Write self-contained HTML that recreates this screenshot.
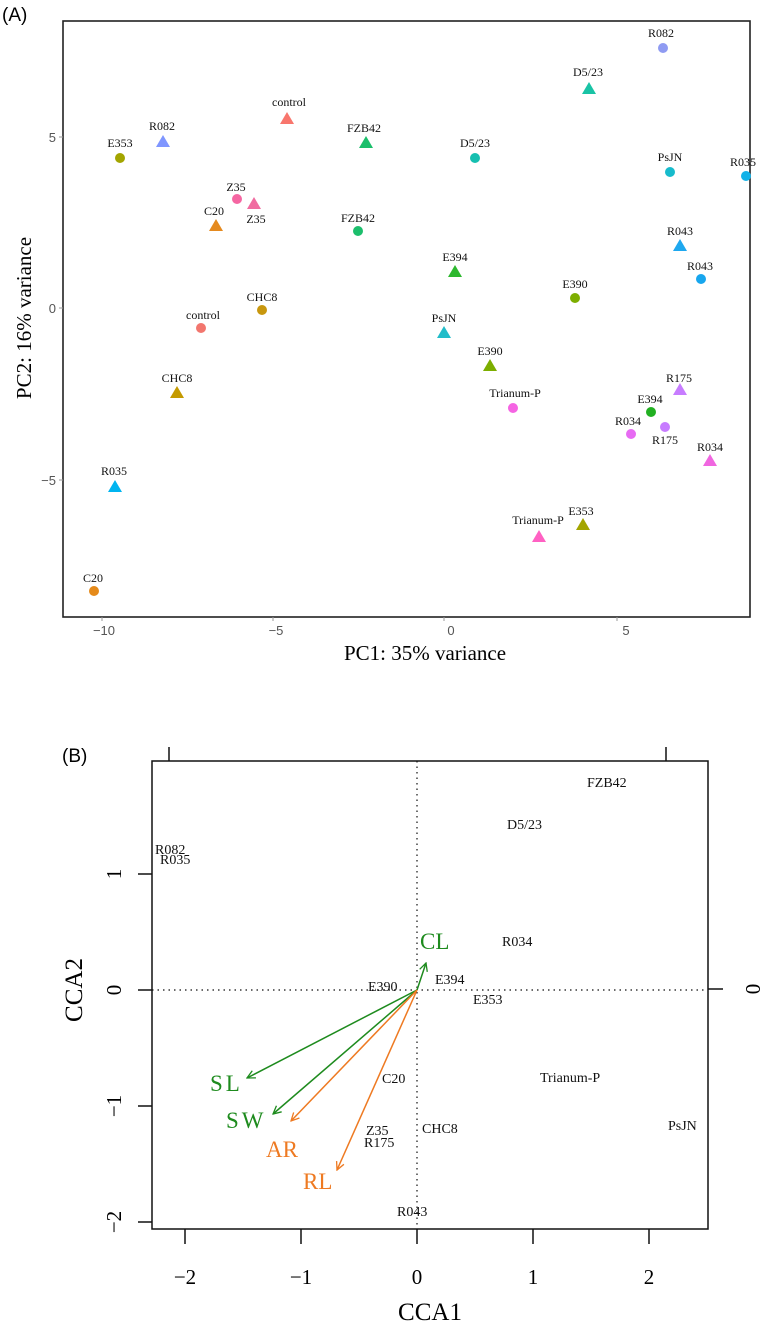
<!DOCTYPE html>
<html><head><meta charset="utf-8"><style>
body{margin:0;background:#fff}
svg{display:block}
.l{font-family:"Liberation Serif",serif;font-size:12px;fill:#111;text-anchor:middle}
.b{font-family:"Liberation Serif",serif;font-size:14px;fill:#111}
.t{font-family:"Liberation Sans",sans-serif;font-size:13px;fill:#555}
</style></head><body>
<svg width="764" height="1323" viewBox="0 0 764 1323" xmlns="http://www.w3.org/2000/svg">
<text x="2" y="21" font-family="Liberation Sans,sans-serif" font-size="19" fill="#000">(A)</text>
<rect x="63" y="21" width="687" height="596" fill="none" stroke="#222" stroke-width="1.6"/>
<g stroke="#999" stroke-width="1">
<line x1="59" y1="137" x2="63" y2="137"/><line x1="59" y1="308" x2="63" y2="308"/><line x1="59" y1="480" x2="63" y2="480"/>
<line x1="102" y1="617" x2="102" y2="621"/><line x1="273" y1="617" x2="273" y2="621"/><line x1="444" y1="617" x2="444" y2="621"/><line x1="617" y1="617" x2="617" y2="621"/>
</g>
<text class="t" x="56" y="142" text-anchor="end">5</text>
<text class="t" x="56" y="313" text-anchor="end">0</text>
<text class="t" x="56" y="485" text-anchor="end">−5</text>
<text class="t" x="104" y="635" text-anchor="middle">−10</text>
<text class="t" x="276" y="635" text-anchor="middle">−5</text>
<text class="t" x="451" y="635" text-anchor="middle">0</text>
<text class="t" x="626" y="635" text-anchor="middle">5</text>
<text x="425" y="660" font-family="Liberation Serif,serif" font-size="21" text-anchor="middle">PC1: 35% variance</text>
<text transform="translate(31,318) rotate(-90)" font-family="Liberation Serif,serif" font-size="21" text-anchor="middle">PC2: 16% variance</text>
<g>
<circle cx="663" cy="48" r="5" fill="#8F9BF2"/><text class="l" x="661" y="37">R082</text>
<polygon points="589,82 596,94 582,94" fill="#19C3A5"/><text class="l" x="588" y="76">D5/23</text>
<polygon points="287,112 294,124 280,124" fill="#F8766D"/><text class="l" x="289" y="106">control</text>
<polygon points="163,135 170,147 156,147" fill="#7F96FF"/><text class="l" x="162" y="130">R082</text>
<circle cx="120" cy="158" r="5" fill="#A3A500"/><text class="l" x="120" y="147">E353</text>
<polygon points="366,136 373,148 359,148" fill="#1BBF6B"/><text class="l" x="364" y="132">FZB42</text>
<circle cx="475" cy="158" r="5" fill="#16BFB0"/><text class="l" x="475" y="147">D5/23</text>
<circle cx="670" cy="172" r="5" fill="#17BBCC"/><text class="l" x="670" y="161">PsJN</text>
<circle cx="746" cy="176" r="5" fill="#12B2E8"/><text class="l" x="743" y="166">R035</text>
<circle cx="237" cy="199" r="5" fill="#F566A2"/><text class="l" x="236" y="191">Z35</text>
<polygon points="254,197 261,209 247,209" fill="#F06CA0"/><text class="l" x="256" y="223">Z35</text>
<circle cx="358" cy="231" r="5" fill="#1CBE6C"/><text class="l" x="358" y="222">FZB42</text>
<polygon points="216,219 223,231 209,231" fill="#E58A1F"/><text class="l" x="214" y="215">C20</text>
<polygon points="680,239 687,251 673,251" fill="#1EA8EF"/><text class="l" x="680" y="235">R043</text>
<circle cx="701" cy="279" r="5" fill="#17A6EE"/><text class="l" x="700" y="270">R043</text>
<polygon points="455,265 462,277 448,277" fill="#2DB82E"/><text class="l" x="455" y="261">E394</text>
<circle cx="575" cy="298" r="5" fill="#7DAE00"/><text class="l" x="575" y="288">E390</text>
<circle cx="262" cy="310" r="5" fill="#C8970E"/><text class="l" x="262" y="301">CHC8</text>
<circle cx="201" cy="328" r="5" fill="#F2766E"/><text class="l" x="203" y="319">control</text>
<polygon points="444,326 451,338 437,338" fill="#22BCC9"/><text class="l" x="444" y="322">PsJN</text>
<polygon points="490,359 497,371 483,371" fill="#7CAE00"/><text class="l" x="490" y="355">E390</text>
<polygon points="680,383 687,395 673,395" fill="#C77CFF"/><text class="l" x="679" y="382">R175</text>
<circle cx="651" cy="412" r="5" fill="#22B022"/><text class="l" x="650" y="403">E394</text>
<polygon points="177,386 184,398 170,398" fill="#C49A00"/><text class="l" x="177" y="382">CHC8</text>
<circle cx="513" cy="408" r="5" fill="#F564E3"/><text class="l" x="515" y="397">Trianum-P</text>
<circle cx="631" cy="434" r="5" fill="#E76BF3"/><text class="l" x="628" y="425">R034</text>
<circle cx="665" cy="427" r="5" fill="#C77CFF"/><text class="l" x="665" y="444">R175</text>
<polygon points="710,454 717,466 703,466" fill="#F066E0"/><text class="l" x="710" y="451">R034</text>
<polygon points="115,480 122,492 108,492" fill="#00B4F0"/><text class="l" x="114" y="475">R035</text>
<polygon points="583,518 590,530 576,530" fill="#A3A500"/><text class="l" x="581" y="515">E353</text>
<polygon points="539,530 546,542 532,542" fill="#FF61C3"/><text class="l" x="538" y="524">Trianum-P</text>
<circle cx="94" cy="591" r="5" fill="#E58A1A"/><text class="l" x="93" y="582">C20</text>
</g>

<text x="62" y="762" font-family="Liberation Sans,sans-serif" font-size="19" fill="#000">(B)</text>
<rect x="152" y="761" width="556" height="468" fill="none" stroke="#111" stroke-width="1.5"/>
<g stroke="#111" stroke-width="1.5">
<line x1="169" y1="747" x2="169" y2="761"/><line x1="666" y1="747" x2="666" y2="761"/>
<line x1="708" y1="989" x2="723" y2="989"/>
<line x1="138" y1="874" x2="152" y2="874"/><line x1="138" y1="990" x2="152" y2="990"/><line x1="138" y1="1106" x2="152" y2="1106"/><line x1="138" y1="1222" x2="152" y2="1222"/>
<line x1="185" y1="1229" x2="185" y2="1244"/><line x1="301" y1="1229" x2="301" y2="1244"/><line x1="417" y1="1229" x2="417" y2="1244"/><line x1="533" y1="1229" x2="533" y2="1244"/><line x1="649" y1="1229" x2="649" y2="1244"/>
</g>
<g stroke="#111" stroke-width="1.2" stroke-dasharray="1.5,4">
<line x1="152" y1="990" x2="708" y2="990"/><line x1="417" y1="761" x2="417" y2="1229"/>
</g>
<g font-family="Liberation Serif,serif" font-size="21" fill="#000" text-anchor="middle">
<text x="185" y="1284">−2</text><text x="301" y="1284">−1</text><text x="417" y="1284">0</text><text x="533" y="1284">1</text><text x="649" y="1284">2</text>
<text transform="translate(121,874) rotate(-90)">1</text>
<text transform="translate(121,990) rotate(-90)">0</text>
<text transform="translate(121,1106) rotate(-90)">−1</text>
<text transform="translate(121,1222) rotate(-90)">−2</text>
<text transform="translate(760,989) rotate(-90)">0</text>
</g>
<text x="430" y="1320" font-family="Liberation Serif,serif" font-size="25" text-anchor="middle">CCA1</text>
<text transform="translate(82,990) rotate(-90)" font-family="Liberation Serif,serif" font-size="25" text-anchor="middle">CCA2</text>
<g class="b">
<text class="b" x="587" y="787">FZB42</text>
<text class="b" x="507" y="829">D5/23</text>
<text class="b" x="155" y="854">R082</text>
<text class="b" x="160" y="864">R035</text>
<text class="b" x="502" y="946">R034</text>
<text class="b" x="368" y="991">E390</text>
<text class="b" x="435" y="984">E394</text>
<text class="b" x="473" y="1004">E353</text>
<text class="b" x="382" y="1083">C20</text>
<text class="b" x="540" y="1082" font-size="13">Trianum-P</text>
<text class="b" x="422" y="1133">CHC8</text>
<text class="b" x="668" y="1130" font-size="13">PsJN</text>
<text class="b" x="366" y="1135">Z35</text>
<text class="b" x="364" y="1147">R175</text>
<text class="b" x="397" y="1216">R043</text>
</g>
<defs>
<marker id="ag" markerWidth="10" markerHeight="10" refX="9" refY="5" orient="auto" markerUnits="userSpaceOnUse"><path d="M1,1 L9,5 L1,9" fill="none" stroke="#1E8B1E" stroke-width="1.3"/></marker>
<marker id="ao" markerWidth="10" markerHeight="10" refX="9" refY="5" orient="auto" markerUnits="userSpaceOnUse"><path d="M1,1 L9,5 L1,9" fill="none" stroke="#EE7A22" stroke-width="1.3"/></marker>
</defs>
<g stroke-width="1.5" fill="none">
<line x1="417" y1="990" x2="426" y2="963" stroke="#1E8B1E" marker-end="url(#ag)"/>
<line x1="417" y1="990" x2="247" y2="1078" stroke="#1E8B1E" marker-end="url(#ag)"/>
<line x1="417" y1="990" x2="273" y2="1114" stroke="#1E8B1E" marker-end="url(#ag)"/>
<line x1="417" y1="990" x2="291" y2="1121" stroke="#EE7A22" marker-end="url(#ao)"/>
<line x1="417" y1="990" x2="337" y2="1170" stroke="#EE7A22" marker-end="url(#ao)"/>
</g>
<g font-family="Liberation Serif,serif" font-size="23">
<text x="420" y="949" fill="#1E8B1E">CL</text>
<text x="210" y="1091" fill="#1E8B1E" letter-spacing="3">SL</text>
<text x="226" y="1128" fill="#1E8B1E" letter-spacing="3">SW</text>
<text x="266" y="1157" fill="#EE7A22">AR</text>
<text x="303" y="1189" fill="#EE7A22">RL</text>
</g>
</svg>
</body></html>
